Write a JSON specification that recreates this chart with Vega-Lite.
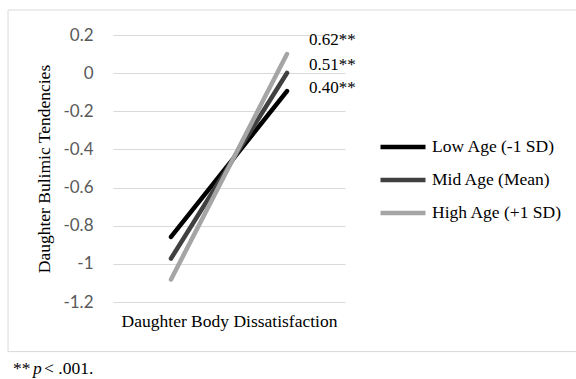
{
  "$schema": "https://vega.github.io/schema/vega-lite/v6.json",
  "width": 232,
  "height": 267,
  "autosize": {"type": "none"},
  "padding": {"left": 113, "top": 35, "right": 231, "bottom": 77},
  "background": "white",
  "config": {"view": {"stroke": null}, "font": "Liberation Serif"},
  "datasets": {
    "lines": [
      {"series": "Low Age (-1 SD)", "x": 1, "v": -0.859},
      {"series": "Low Age (-1 SD)", "x": 2, "v": -0.094},
      {"series": "Mid Age (Mean)", "x": 1, "v": -0.972},
      {"series": "Mid Age (Mean)", "x": 2, "v": 0.001},
      {"series": "High Age (+1 SD)", "x": 1, "v": -1.082},
      {"series": "High Age (+1 SD)", "x": 2, "v": 0.1}
    ],
    "ends": [
      {"series": "Low Age (-1 SD)", "x": 2, "v": -0.094, "label": "0.40**"},
      {"series": "Mid Age (Mean)", "x": 2, "v": 0.001, "label": "0.51**"},
      {"series": "High Age (+1 SD)", "x": 2, "v": 0.1, "label": "0.62**"}
    ]
  },
  "layer": [
    {
      "data": {"name": "lines"},
      "mark": {"type": "line", "strokeWidth": 4.5, "strokeCap": "round"},
      "encoding": {
        "x": {
          "field": "x", "type": "quantitative",
          "scale": {"domain": [0.5, 2.5], "nice": false, "zero": false},
          "axis": {"labels": false, "ticks": false, "domain": false, "grid": false,
            "title": "Daughter Body Dissatisfaction", "titleFont": "Liberation Serif",
            "titleFontSize": 17.5, "titleFontWeight": "normal", "titleColor": "#000000", "titlePadding": 10}
        },
        "y": {
          "field": "v", "type": "quantitative",
          "scale": {"domain": [-1.2, 0.2], "nice": false, "zero": false},
          "axis": {"values": [-1.2, -1, -0.8, -0.6, -0.4, -0.2, 0, 0.2], "tickCount": 8,
            "labelOverlap": false,
            "labelExpr": "'' + datum.value", "grid": true, "gridColor": "#d9d9d9", "gridWidth": 1,
            "domain": false, "ticks": false, "labelFont": "Lato", "labelFontSize": 17,
            "labelColor": "#595959", "labelPadding": 20,
            "title": "Daughter Bulimic Tendencies", "titleFont": "Liberation Serif",
            "titleFontSize": 17.5, "titleFontWeight": "normal", "titleColor": "#000000", "titlePadding": 9}
        },
        "color": {
          "field": "series", "type": "nominal",
          "scale": {"domain": ["Low Age (-1 SD)", "Mid Age (Mean)", "High Age (+1 SD)"], "range": ["#000000", "#404040", "#a5a5a5"]},
          "legend": {"title": null, "orient": "none", "legendX": 265, "legendY": 102,
            "symbolType": "stroke", "symbolSize": 2025, "symbolStrokeWidth": 4.5,
            "labelFont": "Liberation Serif", "labelFontSize": 17.5, "labelColor": "#000000",
            "labelOffset": 4, "clipHeight": 20, "rowPadding": 13, "padding": 0}
        },
        "order": {"field": "x"}
      }
    },
    {
      "data": {"values": [{}]},
      "mark": {"type": "rect", "fillOpacity": 0, "stroke": "#d9d9d9", "strokeWidth": 1},
      "encoding": {
        "x": {"datum": -0.405, "type": "quantitative"},
        "x2": {"datum": 5},
        "y": {"datum": 0.331, "type": "quantitative"},
        "y2": {"datum": -1.46}
      }
    },
    {
      "data": {"name": "ends"},
      "transform": [{"filter": "datum.series === 'High Age (+1 SD)'"}],
      "mark": {"type": "text", "align": "left", "baseline": "middle", "dx": 22, "dy": -14, "fontSize": 17, "font": "Liberation Serif", "color": "#000000"},
      "encoding": {
        "x": {"field": "x", "type": "quantitative"},
        "y": {"field": "v", "type": "quantitative"},
        "text": {"field": "label"}
      }
    },
    {
      "data": {"name": "ends"},
      "transform": [{"filter": "datum.series === 'Mid Age (Mean)'"}],
      "mark": {"type": "text", "align": "left", "baseline": "middle", "dx": 22, "dy": -7.5, "fontSize": 17, "font": "Liberation Serif", "color": "#000000"},
      "encoding": {
        "x": {"field": "x", "type": "quantitative"},
        "y": {"field": "v", "type": "quantitative"},
        "text": {"field": "label"}
      }
    },
    {
      "data": {"name": "ends"},
      "transform": [{"filter": "datum.series === 'Low Age (-1 SD)'"}],
      "mark": {"type": "text", "align": "left", "baseline": "middle", "dx": 22, "dy": -3, "fontSize": 17, "font": "Liberation Serif", "color": "#000000"},
      "encoding": {
        "x": {"field": "x", "type": "quantitative"},
        "y": {"field": "v", "type": "quantitative"},
        "text": {"field": "label"}
      }
    },
    {
      "data": {"values": [{}]},
      "mark": {"type": "text", "align": "left", "baseline": "middle", "fontSize": 17.5, "font": "Liberation Serif", "color": "#000000", "text": "**"},
      "encoding": {
        "x": {"datum": -0.362, "type": "quantitative"},
        "y": {"datum": -1.55, "type": "quantitative"}
      }
    },
    {
      "data": {"values": [{}]},
      "mark": {"type": "text", "align": "left", "baseline": "middle", "fontSize": 17.5, "font": "Liberation Serif", "fontStyle": "italic", "color": "#000000", "text": "p", "dx": 20},
      "encoding": {
        "x": {"datum": -0.362, "type": "quantitative"},
        "y": {"datum": -1.55, "type": "quantitative"}
      }
    },
    {
      "data": {"values": [{}]},
      "mark": {"type": "text", "align": "left", "baseline": "middle", "fontSize": 17.5, "font": "Liberation Serif", "color": "#000000", "text": "< .001.", "dx": 31},
      "encoding": {
        "x": {"datum": -0.362, "type": "quantitative"},
        "y": {"datum": -1.55, "type": "quantitative"}
      }
    }
  ]
}
